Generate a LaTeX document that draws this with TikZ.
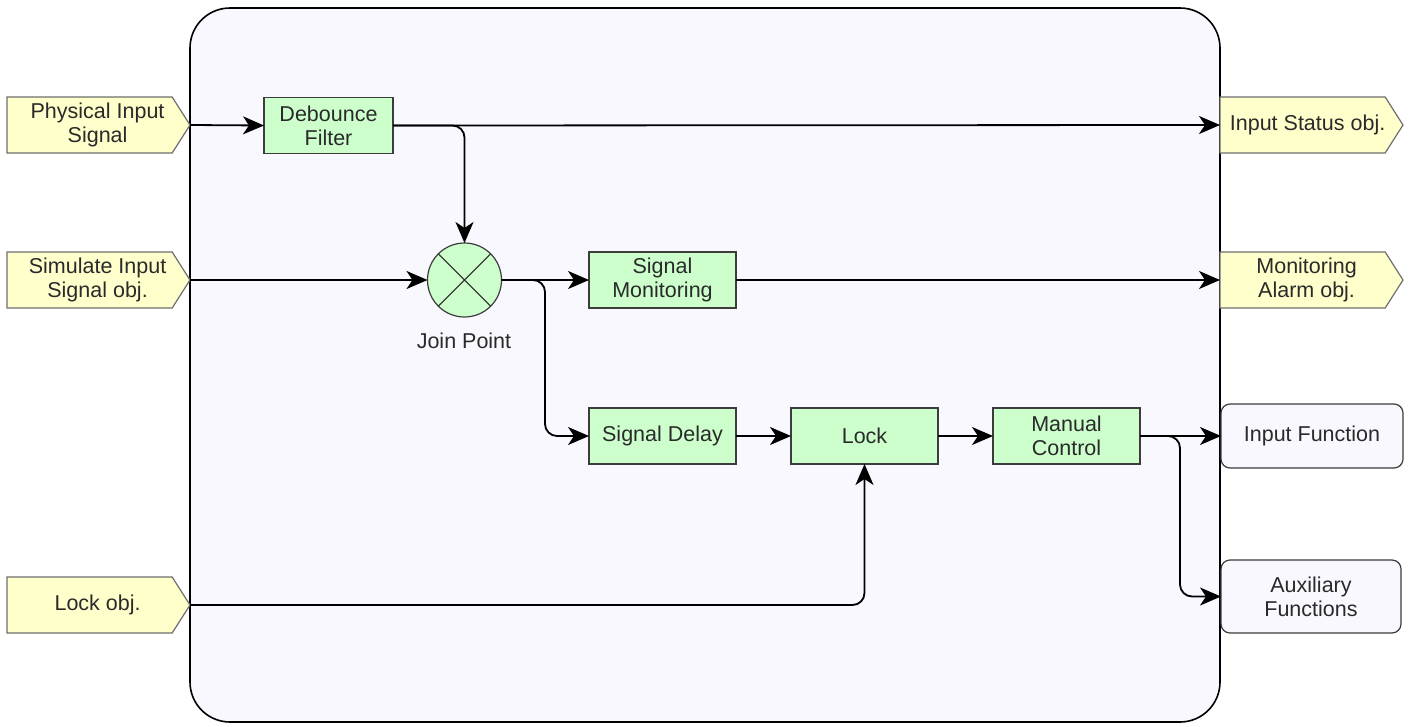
\documentclass[tikz,border=0pt]{standalone}
\usepackage{fontspec}
\setmainfont{Liberation Sans}
\usetikzlibrary{shapes.symbols,arrows.meta}
\definecolor{pad}{HTML}{FFFFCC}
\definecolor{padline}{HTML}{6E6E6E}
\definecolor{blk}{HTML}{CCFFCC}
\definecolor{blkline}{HTML}{3C3C3C}
\definecolor{panel}{HTML}{F8F8FE}
\definecolor{txt}{HTML}{2A2A2A}
\begin{document}
\begin{tikzpicture}[x=1pt,y=-1pt,
  every node/.style={font=\fontsize{21.5}{24}\selectfont, text=txt, align=center, inner sep=0pt, outer sep=0pt},
  port/.style={shape=signal, signal to=east, signal pointer angle=115, draw=padline, fill=pad, line width=1.2pt, minimum width=183pt, minimum height=56pt, anchor=east},
  block/.style={draw=blkline, fill=blk, line width=1.2pt, minimum width=147pt, minimum height=56pt},
  outbox/.style={draw=blkline, fill=panel, rounded corners=9pt, line width=1.2pt, minimum width=182pt},
  flow/.style={draw=black, line width=1.8pt, -{Stealth[length=21pt,width=18pt,inset=6pt]}, rounded corners=12pt},
]
\useasboundingbox (0,0) rectangle (1414,726);

% enclosing panel
\node[draw=black, line width=1.6pt, fill=panel, rounded corners=40pt,
      minimum width=1030pt, minimum height=714pt] (frame) at (705,365) {};

% inputs (placed by their tips)
\node[port] (phys)    at (190,125) {};
\node[port] (sim)     at (190,280) {};
\node[port] (lockobj) at (190,605) {};
\node (physt)    at ([xshift=8pt]phys.center)    {Physical Input\\Signal};
\node (simt)     at ([xshift=8pt]sim.center)     {Simulate Input\\Signal obj.};
\node (lockobjt) at ([xshift=8pt]lockobj.center) {Lock obj.};

% outputs
\node[port] (status) at (1403,125) {};
\node[port] (alarm)  at (1403,280) {};
\node (statust) at ([xshift=5pt]status.center) {Input Status obj.};
\node (alarmt)  at ([xshift=4pt]alarm.center)  {Monitoring\\Alarm obj.};
\node[outbox, minimum height=64pt] (infn) at (1312,436) {Input Function};
\node[outbox, minimum width=180pt, minimum height=73pt] (aux) at (1311,596.5) {Auxiliary\\Functions};

% processing blocks
\node[block, minimum width=129pt] (debounce) at (328.5,125.5) {Debounce\\Filter};
\node[circle, draw=blkline, fill=blk, line width=1.2pt, minimum size=74pt] (join) at (464.5,280) {};
\draw[blkline, line width=1.2pt] (join.north west) -- (join.south east)
                                  (join.north east) -- (join.south west);
\node (joinlabel) at (464,341) {Join Point};
\node[block] (mon)    at (662.5,280) {Signal\\Monitoring};
\node[block] (delay)  at (662.5,436) {Signal Delay};
\node[block] (lock)   at (864.5,436) {Lock};
\node[block] (manual) at (1066.5,436) {Manual\\Control};

% bend points
\coordinate (jbend) at (545,280);
\coordinate (mbend) at (1180,436);

% signal flow
\draw[flow] (phys.east) -- (debounce.west);
\draw[flow] (debounce.east) -- (status.west);
\draw[flow] (debounce.east) -| (join.north);
\draw[flow] (sim.east) -- (join.west);
\draw[flow] (join.east) -- (mon.west);
\draw[flow] (join.east) -- (jbend) |- (delay.west);
\draw[flow] (mon.east) -- (alarm.west);
\draw[flow] (delay.east) -- (lock.west);
\draw[flow] (lock.east) -- (manual.west);
\draw[flow] (manual.east) -- (infn.west);
\draw[flow] (manual.east) -- (mbend) |- (aux.west);
\draw[flow] (lockobj.east) -| (lock.south);
\end{tikzpicture}
\end{document}
